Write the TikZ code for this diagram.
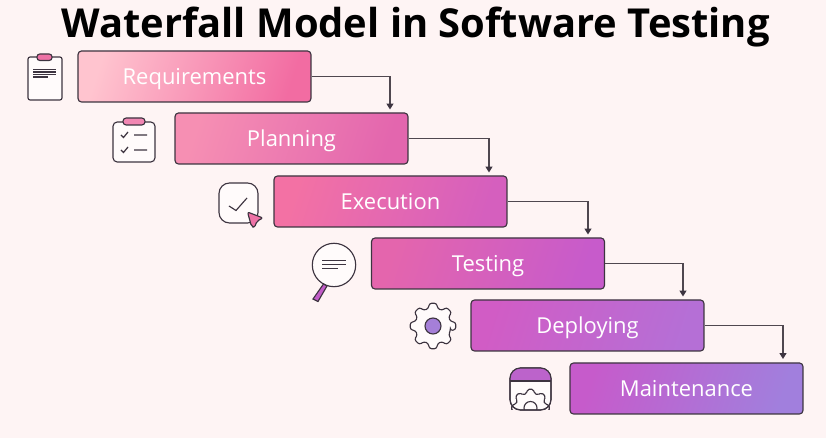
\documentclass[tikz,border=0pt]{standalone}
\usepackage{fontspec}
\setmainfont{Open Sans}
\usetikzlibrary{arrows.meta}
\definecolor{pagebg}{HTML}{FEF4F4}
\definecolor{inkline}{HTML}{3D3440}
\definecolor{flowline}{HTML}{4F474F}
\definecolor{pinkicon}{HTML}{EE72A6}
\definecolor{purpleicon}{HTML}{C25CC8}
\definecolor{violeticon}{HTML}{A57FD8}
\definecolor{reqleft}{HTML}{FFC4CF}
\definecolor{reqright}{HTML}{F26CA2}
\definecolor{planleft}{HTML}{F68FB3}
\definecolor{planright}{HTML}{E366AE}
\definecolor{execleft}{HTML}{F371A4}
\definecolor{execright}{HTML}{D55FBE}
\definecolor{testleft}{HTML}{E465AD}
\definecolor{testright}{HTML}{C75BCB}
\definecolor{deployleft}{HTML}{D15CC5}
\definecolor{deployright}{HTML}{B56FD6}
\definecolor{maintleft}{HTML}{C65BCB}
\definecolor{maintright}{HTML}{A17FDD}
\newcommand{\gearteeth}[2]{\foreach \a in {0,45,...,315} {-- (\a-9:#2) -- (\a+9:#2) -- (\a+15:#1) -- (\a+30:#1)} -- cycle}
\tikzset{
  stepbox/.style={draw=inkline,line width=0.65pt,rounded corners=2pt,minimum width=4.66cm,minimum height=1.02cm,inner sep=0pt,text=white,text height=9.6pt,text depth=0pt,font=\fontsize{12.5}{14}\selectfont},
  flowarrow/.style={draw=flowline,line width=0.7pt,-{Triangle[length=3.4pt,width=4pt,color=inkline]}},
  iconline/.style={draw=inkline,line width=0.65pt}
}
\begin{document}
\begin{tikzpicture}[x=0.02cm,y=0.02cm]
\fill [pagebg] (0,0) rectangle (826,-438);
\useasboundingbox (0,0) rectangle (826,-438);
\node (title) at (415.5,-27.5) {\fontsize{22.7}{26}\selectfont\bfseries Waterfall Model in Software Testing};
\node [stepbox,left color=reqleft,right color=reqright,shading angle=72] (requirements) at (194.5,-76.5) {Requirements};
\node [stepbox,left color=planleft,right color=planright,shading angle=72] (planning) at (291.5,-138.5) {Planning};
\node [stepbox,left color=execleft,right color=execright,shading angle=72] (execution) at (390.5,-201.5) {Execution};
\node [stepbox,left color=testleft,right color=testright,shading angle=72] (testing) at (488,-263.5) {Testing};
\node [stepbox,left color=deployleft,right color=deployright,shading angle=72] (deploying) at (587.5,-325.5) {Deploying};
\node [stepbox,left color=maintleft,right color=maintright,shading angle=72] (maintenance) at (686.5,-388.5) {Maintenance};
\coordinate (planningtop) at (390,-109.5);
\coordinate (executiontop) at (489,-172.5);
\coordinate (testingtop) at (588,-234.5);
\coordinate (deployingtop) at (683,-296.5);
\coordinate (maintenancetop) at (783,-359);
\draw [flowarrow] (requirements.east) -| (planningtop);
\draw [flowarrow] (planning.east) -| (executiontop);
\draw [flowarrow] (execution.east) -| (testingtop);
\draw [flowarrow] (testing.east) -| (deployingtop);
\draw [flowarrow] (deploying.east) -| (maintenancetop);
\draw [iconline,fill=pagebg!40!white,rounded corners=1.2pt] (28,-57) rectangle (62,-100);
\draw [iconline,fill=pinkicon,rounded corners=1.6pt] (37,-54) rectangle (52,-60.5);
\draw [inkline,line width=0.8pt] (33,-69.5) -- (56,-69.5) (33,-72) -- (56,-72) (33,-74.5) -- (56,-74.5) (33,-77) -- (47.5,-77);
\draw [iconline,fill=pagebg!40!white,rounded corners=2.4pt] (113,-122) rectangle (155,-162);
\draw [iconline,fill=pinkicon!85!white,rounded corners=1.8pt] (123,-118) rectangle (145,-125);
\draw [inkline,line width=0.7pt] (121,-135) -- (123.5,-137.5) -- (128,-132) (134,-135) -- (147,-135);
\draw [inkline,line width=0.7pt] (121,-150) -- (123.5,-152.5) -- (128,-147) (134,-150) -- (147,-150);
\draw [iconline,fill=pagebg!40!white,rounded corners=6pt] (219,-183) rectangle (258,-223);
\draw [iconline] (229,-206) -- (236,-210.5) -- (247,-198);
\draw [iconline,fill=pinkicon,rounded corners=1.2pt,line join=round] (247.5,-212) -- (263,-218) -- (257,-221) -- (254.5,-227.5) -- (251.5,-226.5) -- cycle;
\draw [iconline,fill=pagebg!40!white] (334,-265) circle (21.7);
\draw [inkline,line width=0.7pt] (322,-260.7) -- (346,-260.7) (322,-264.3) -- (346,-264.3) (322,-268.3) -- (338,-268.3);
\draw [iconline,fill=purpleicon] (323.5,-284) -- (327,-286) -- (318,-301.5) -- (313,-299) -- cycle;
\begin{scope}[shift={(433,-326)}]
\draw [iconline,fill=pagebg!40!white,rounded corners=1.3pt] (-15:18) \gearteeth{18}{23};
\draw [iconline,fill=violeticon] (0,0) circle (8);
\end{scope}
\draw [iconline,fill=pagebg!40!white,rounded corners=6pt] (510,-368) rectangle (551,-410);
\begin{scope}
\clip [rounded corners=6pt] (510,-368) rectangle (551,-410);
\fill [purpleicon!80!violeticon] (510,-368) rectangle (551,-381);
\end{scope}
\draw [iconline] (510,-381) -- (551,-381);
\begin{scope}
\clip (510,-381) rectangle (551,-410);
\begin{scope}[shift={(530.5,-408)}]
\draw [iconline,rounded corners=1pt] (-15:15) \gearteeth{15}{19};
\draw [iconline] (0,0) circle (6.5);
\end{scope}
\end{scope}
\draw [iconline,rounded corners=6pt] (510,-368) rectangle (551,-410);
\end{tikzpicture}
\end{document}
